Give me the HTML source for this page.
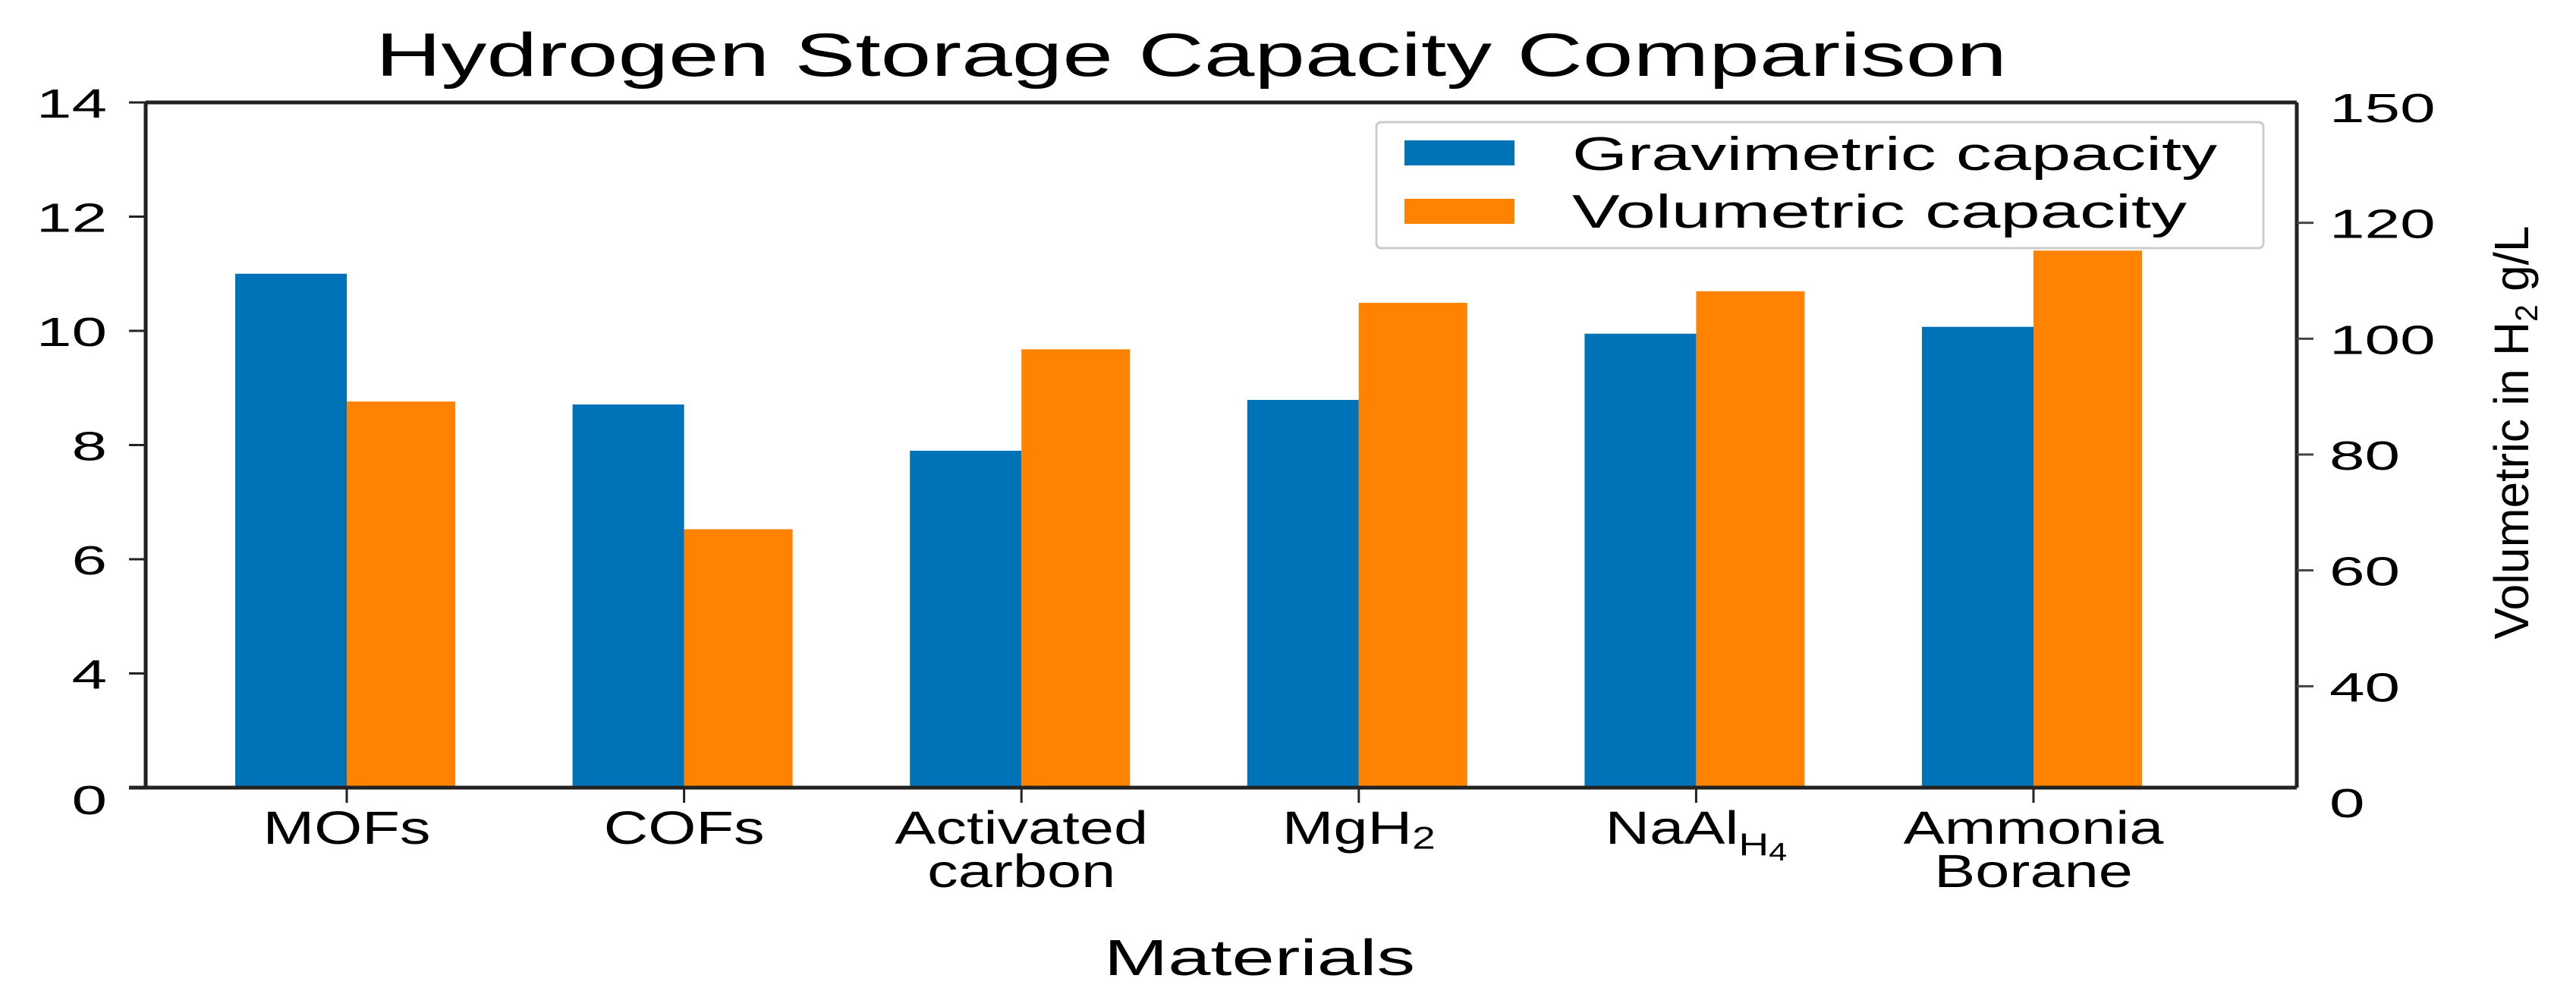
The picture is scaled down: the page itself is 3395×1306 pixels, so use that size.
<!DOCTYPE html>
<html><head><meta charset="utf-8"><style>
html,body{margin:0;padding:0;background:#fff;}
svg{display:block;font-family:"Liberation Sans","DejaVu Sans",sans-serif;}
</style></head><body>
<svg id="chart" width="3395" height="1306" viewBox="0 0 3395 1306" xmlns="http://www.w3.org/2000/svg">
<rect width="3395" height="1306" fill="#fff"/>
<text transform="translate(1570,100) scale(1,1.15)" x="0" y="0" font-size="70" text-anchor="middle" textLength="2150" lengthAdjust="spacingAndGlyphs">Hydrogen Storage Capacity Comparison</text>
<g id="plot"></g>
<g>
<rect x="1814" y="161" width="1169" height="166" rx="6" fill="#fff" stroke="#ccc" stroke-width="3"/>
<rect x="1851" y="185" width="145" height="33" fill="#0072b8"/>
<text transform="translate(2072,224) scale(1,1.15)" font-size="54" textLength="850" lengthAdjust="spacingAndGlyphs">Gravimetric capacity</text>
<rect x="1851" y="262" width="145" height="33" fill="#ff8200"/>
<text transform="translate(2072,300) scale(1,1.15)" font-size="54" textLength="810" lengthAdjust="spacingAndGlyphs">Volumetric capacity</text>
</g>
<text transform="translate(1660,1285) scale(1,1.15)" font-size="58" text-anchor="middle" textLength="410" lengthAdjust="spacingAndGlyphs">Materials</text>
<text transform="translate(3332,570) rotate(-90)" font-size="64" text-anchor="middle" textLength="545" lengthAdjust="spacingAndGlyphs">Volumetric in H<tspan font-size="42" dy="12">2</tspan><tspan dy="-12"> g/L</tspan></text>
</svg>
<script>
const categories = ["MOFs","COFs","Activated carbon","MgH2","NaAlH4","Ammonia Borane"];
const gravimetric = [11.0, 8.71, 7.9, 8.79, 9.95, 10.07];
const volumetric = [89, 67, 98, 106, 108, 115];
const leftTickLabels = ["0","4","6","8","10","12","14"];
const rightTickLabels = ["0","40","60","80","100","120","150"];

const NS = "http://www.w3.org/2000/svg";
const plot = document.getElementById("plot");
const L = 192, R = 3027, T = 135, B = 1038;
function yLeft(v){ return B - (v - 2) / 12 * (B - T); }
function yRight(v){ return 904 - (v - 40) * 7.65; }
const firstCenter = 457, lastCenter = 2680;
function xCenter(i){ return firstCenter + i * (lastCenter - firstCenter) / (categories.length - 1); }
const barW = 147;
function mk(tag, attrs){ const e = document.createElementNS(NS, tag); for (const k in attrs) e.setAttribute(k, attrs[k]); return e; }

categories.forEach((c, i) => {
  const cx = xCenter(i);
  const yb = yLeft(gravimetric[i]);
  const b = mk("rect", {x: cx - barW, y: yb, width: barW, height: B - yb, fill: "#0072b8"});
  
  
  plot.appendChild(b);
  const yo = yRight(volumetric[i]);
  const o = mk("rect", {x: cx, y: yo, width: barW - 4, height: B - yo, fill: "#ff8200"});
  
  
  plot.appendChild(o);
  const tk = mk("line", {x1: cx, x2: cx, y1: B, y2: B + 20, stroke: "#222", "stroke-width": 3});
  
  
  plot.appendChild(tk);
  const t = mk("text", {x: 0, y: 0, "font-size": 56, "text-anchor": "middle", transform: "translate(" + cx + ",1112) scale(1.45,1.1)"});
  
  
  if (c === "MgH2") { t.innerHTML = 'MgH<tspan font-size="38" dy="6">2</tspan>'; }
  else if (c === "NaAlH4") { t.innerHTML = 'NaAl<tspan font-size="38" dy="14">H</tspan><tspan font-size="30" dy="6">4</tspan>'; }
  else {
    const parts = c.split(" ");
    if (parts.length > 1) {
      t.innerHTML = '<tspan x="0">' + parts[0] + '</tspan><tspan x="0" dy="52">' + parts[1] + '</tspan>';
    } else t.textContent = c;
  }
  plot.appendChild(t);
});

const frame = [
  [L, T, L, B], [L - 22, B, R, B], [L, T, R, T], [R, T, R, B]
];
frame.forEach(f => {
  const ln = mk("line", {x1: f[0], y1: f[1], x2: f[2], y2: f[3], stroke: "#222", "stroke-width": 5});
  
  
  plot.appendChild(ln);
});

const step = (B - T) / (leftTickLabels.length - 1);
leftTickLabels.forEach((lab, i) => {
  const y = B - i * step;
  const tk = mk("line", {x1: L - 22, x2: L, y1: y, y2: y, stroke: "#222", "stroke-width": 3});
  
  
  plot.appendChild(tk);
  const ty = y + 20 + (i === 0 ? 15 : 0);
  const t = mk("text", {x: 0, y: 0, "font-size": 54, "text-anchor": "end", transform: "translate(141," + ty + ") scale(1.55,1)"});
  
  
  t.textContent = lab;
  plot.appendChild(t);
});

const rB = 1057, rT = 141;
const rStep = (rB - rT) / (rightTickLabels.length - 1);
rightTickLabels.forEach((lab, i) => {
  const y = rB - i * rStep;
  if (i > 0 && i < rightTickLabels.length - 1) {
    const tk = mk("line", {x1: R, x2: R + 22, y1: y, y2: y, stroke: "#444", "stroke-width": 3});
    
    
    plot.appendChild(tk);
  }
  const t = mk("text", {x: 0, y: 0, "font-size": 54, transform: "translate(3070," + (y + 20) + ") scale(1.55,1)"});
  
  
  t.textContent = lab;
  plot.appendChild(t);
});
</script>
</body></html>
